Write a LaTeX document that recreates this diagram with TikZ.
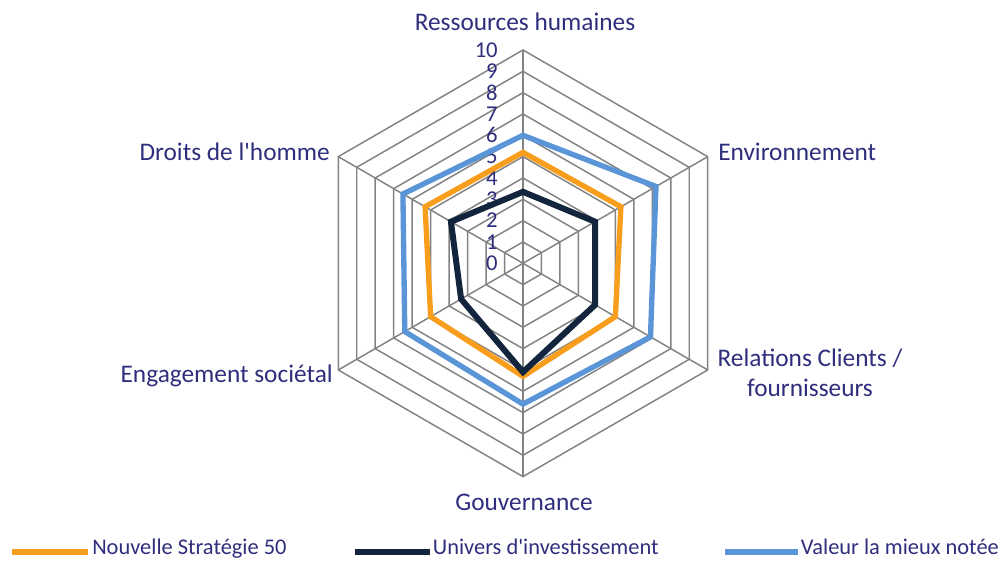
\documentclass[tikz,border=0pt]{standalone}
\usepackage{fontspec}
\setmainfont{Carlito}
\definecolor{labelblue}{RGB}{47,46,125}
\definecolor{orangeS}{RGB}{249,157,28}
\definecolor{darkS}{RGB}{19,36,61}
\definecolor{blueS}{RGB}{90,149,216}
\definecolor{gridgray}{RGB}{130,130,130}

\begin{document}
\begin{tikzpicture}[x=0.75pt, y=0.75pt,
    gridline/.style={draw=gridgray, line width=1.1pt},
    serie/.style={line width=4pt, line join=miter},
    axislabel/.style={text=labelblue, font=\fontsize{19}{22.5}\selectfont, inner sep=0pt},
    legendlabel/.style={text=labelblue, font=\fontsize{16.8}{20}\selectfont, inner sep=0pt, anchor=base west},
    scalelabel/.style={text=labelblue, font=\fontsize{17}{17}\selectfont, inner sep=0pt, anchor=east},
    legendline/.style={line width=4.5pt}]
\useasboundingbox (-523,-299.7) rectangle (483,263.3);
\def\u{21.33}
\coordinate (c) at (0,0);

% grid
\foreach \r in {1,...,10}{
        \draw[gridline] (90:\r*\u) \foreach \a in {30,-30,-90,-150,150}{ -- (\a:\r*\u)} -- cycle;
    }
\foreach \a [count=\i] in {90,30,-30,-90,-150,150}{
        \coordinate (ax\i) at (\a:10*\u);
        \draw[gridline] (c) -- (ax\i);
    }

% scale
\foreach \v in {0,...,10}{
        \node[scalelabel] (s\v) at (-25, \v*\u) {\v};
    }

% series
\foreach \v [count=\i] in {5.2,5.3,5.0,5.3,5.0,5.3}{
        \coordinate (ns\i) at (150-60*\i:\v*\u);
    }
\foreach \v [count=\i] in {3.35,3.9,3.9,5.1,3.35,3.9}{
        \coordinate (ui\i) at (150-60*\i:\v*\u);
    }
\foreach \v [count=\i] in {6.0,7.2,6.9,6.6,6.4,6.5}{
        \coordinate (vm\i) at (150-60*\i:\v*\u);
    }
\draw[serie, orangeS] (ns1) -- (ns2) -- (ns3) -- (ns4) -- (ns5) -- (ns6) -- cycle;
\draw[serie, darkS, line width=4.5pt] (ui1) -- (ui2) -- (ui3) -- (ui4) -- (ui5) -- (ui6) -- cycle;
\draw[serie, blueS] (vm1) -- (vm2) -- (vm3) -- (vm4) -- (vm5) -- (vm6) -- cycle;

% axis labels
\node[axislabel] (rh) at (2, 241.3) {Ressources humaines};
\node[axislabel, anchor=west] (env) at (195, 111.3) {Environnement};
\node[axislabel, align=center] (rcf) at (287, -109.7) {Relations Clients /\\fournisseurs};
\node[axislabel] (gov) at (1, -238.7) {Gouvernance};
\node[axislabel, anchor=east] (eng) at (-190, -112.7) {Engagement sociétal};
\node[axislabel, anchor=east] (dh) at (-193, 111.3) {Droits de l\textquotesingle homme};

% legend
\coordinate (l1a) at (-511, -288.7);
\coordinate (l1b) at (-435, -288.7);
\coordinate (l2a) at (-168, -288.7);
\coordinate (l2b) at (-93, -288.7);
\coordinate (l3a) at (202, -288.7);
\coordinate (l3b) at (275, -288.7);
\draw[legendline, orangeS] (l1a) -- (l1b);
\draw[legendline, darkS] (l2a) -- (l2b);
\draw[legendline, blueS] (l3a) -- (l3b);
\node[legendlabel] (leg1) at ([xshift=3, yshift=-1.5]l1b) {Nouvelle Stratégie 50};
\node[legendlabel] (leg2) at ([xshift=2, yshift=-1.5]l2b) {Univers d\textquotesingle investissement};
\node[legendlabel] (leg3) at ([xshift=2, yshift=-1.5]l3b) {Valeur la mieux notée};
\end{tikzpicture}
\end{document}
